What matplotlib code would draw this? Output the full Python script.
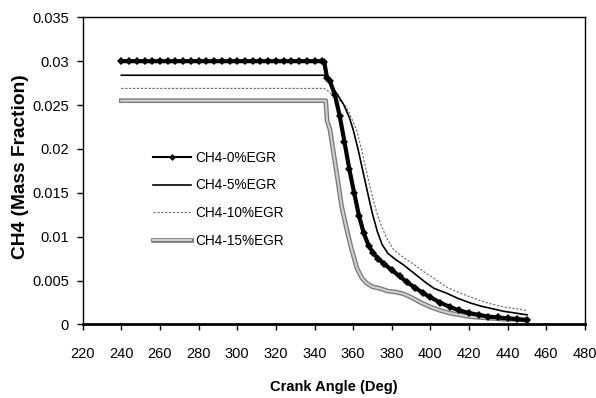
import matplotlib
matplotlib.use("Agg")
import matplotlib.pyplot as plt
import matplotlib.patheffects as pe
from matplotlib.lines import Line2D
from matplotlib.ticker import FuncFormatter

plt.rcParams['font.family'] = ['Liberation Sans', 'DejaVu Sans']

# Data
x0 = [240, 244, 248, 252, 256, 260, 264, 268, 272, 276, 280, 284, 288, 292, 296, 300,
      304, 308, 312, 316, 320, 324, 328, 332, 336, 340, 344, 345, 346.5, 348, 350.5, 353,
      355.5, 358, 360.5, 363, 365.5, 368, 370.5, 373, 376, 380, 384, 388, 392, 396, 400,
      405, 410, 415, 420, 425, 430, 435, 440, 445, 450]
y0 = [0.0300, 0.0300, 0.0300, 0.0300, 0.0300, 0.0300, 0.0300, 0.0300, 0.0300, 0.0300,
      0.0300, 0.0300, 0.0300, 0.0300, 0.0300, 0.0300, 0.0300, 0.0300, 0.0300, 0.0300,
      0.0300, 0.0300, 0.0300, 0.0300, 0.0300, 0.0300, 0.0300, 0.0299, 0.0281, 0.0277,
      0.0262, 0.0238, 0.0208, 0.0177, 0.0150, 0.0124, 0.0104, 0.0090, 0.0081, 0.0075,
      0.0069, 0.0062, 0.0055, 0.0048, 0.0042, 0.0036, 0.0031, 0.0025, 0.0020, 0.0016,
      0.0013, 0.0011, 0.0009, 0.0008, 0.0007, 0.0006, 0.0005]

x5 = [240, 345, 347, 350, 353, 355, 358, 360, 362.5, 365, 367.5, 370, 372.5, 375, 378,
      382, 386, 390, 394, 398, 402, 408, 414, 420, 426, 432, 438, 444, 450]
y5 = [0.0284, 0.0284, 0.0278, 0.0268, 0.0258, 0.0251, 0.0236, 0.0222, 0.0200, 0.0175,
      0.0150, 0.0126, 0.0106, 0.0091, 0.0081, 0.0074, 0.0068, 0.0061, 0.0054, 0.0047,
      0.0041, 0.0036, 0.0030, 0.0025, 0.0021, 0.0018, 0.0015, 0.0013, 0.0011]

x10 = [240, 345, 347, 350, 353, 356.5, 359, 362, 364.5, 367, 369.5, 372, 374, 377, 381,
       385, 389, 393, 398, 403, 408, 414, 420, 426, 432, 438, 444, 450]
y10 = [0.0269, 0.0269, 0.0266, 0.0260, 0.0255, 0.0248, 0.0236, 0.0220, 0.0198, 0.0173,
       0.0150, 0.0129, 0.0116, 0.0100, 0.0085, 0.0078, 0.0072, 0.0066, 0.0058, 0.0051,
       0.0043, 0.0037, 0.0032, 0.0027, 0.0023, 0.0020, 0.0018, 0.0016]

x15 = [240, 345.8, 346.5, 348, 350, 352, 354, 356.5, 359, 362, 364.5, 367, 370, 374,
       378, 382, 386, 390, 395, 400, 405, 410, 415, 420, 426, 432, 438, 444, 450]
y15 = [0.0255, 0.0255, 0.0232, 0.0222, 0.0193, 0.0165, 0.0135, 0.0110, 0.0087, 0.0064,
       0.0053, 0.0047, 0.0043, 0.0041, 0.0038, 0.0037, 0.0035, 0.0031, 0.0025, 0.0020,
       0.0016, 0.0013, 0.0011, 0.0009, 0.0008, 0.0007, 0.0006, 0.0006, 0.0005]

labels = ["CH4-0%EGR", "CH4-5%EGR", "CH4-10%EGR", "CH4-15%EGR"]
x_ticks = list(range(220, 481, 20))
y_ticks = [0, 0.005, 0.01, 0.015, 0.02, 0.025, 0.03, 0.035]

fig = plt.figure(figsize=(5.96, 3.98), dpi=100)
ax = fig.add_axes([0.1388, 0.1847, 0.8427, 0.7718])

ax.plot(x0, y0, color='black', lw=3.0, marker='D', ms=4.5, mew=0, zorder=5)
ax.plot(x5, y5, color='black', lw=1.2, zorder=4)
ax.plot(x10, y10, color='#666666', lw=0.8, linestyle=(0, (2, 1.5)), zorder=3)
fx = [pe.Stroke(linewidth=3.4, foreground='#7a7a7a'), pe.Normal()]
ax.plot(x15, y15, color='#cfcfcf', lw=1.5, zorder=2, path_effects=fx)

handles = [
    Line2D([], [], color='black', lw=1.5, marker='D', ms=3.5, mew=0),
    Line2D([], [], color='black', lw=1.2),
    Line2D([], [], color='#666666', lw=0.8, linestyle=(0, (2, 1.5))),
    Line2D([], [], color='#cfcfcf', lw=1.5, path_effects=fx),
]

ax.set_xlim(220, 480)
ax.set_ylim(0, 0.035)
ax.set_xticks(x_ticks)
ax.set_yticks(y_ticks)
ax.yaxis.set_major_formatter(FuncFormatter(lambda v, p: "%g" % round(v, 4)))
ax.tick_params(axis='both', direction='out', length=4, width=1, labelsize=10.5,
               colors='black', top=False, right=False)
ax.tick_params(axis='x', pad=12)
ax.tick_params(axis='y', pad=6)
for s in ['top', 'right', 'left']:
    ax.spines[s].set_linewidth(1.0)
ax.spines['bottom'].set_linewidth(2.0)

ax.set_xlabel("Crank Angle (Deg)", fontsize=10.5, fontweight='bold', labelpad=14)
ax.set_ylabel("CH4 (Mass Fraction)", fontsize=13.8, fontweight='bold')
ax.yaxis.set_label_coords(-0.106, 0.513)

leg = ax.legend(handles, labels, loc='upper left', bbox_to_anchor=(0.13, 0.583),
                frameon=False, fontsize=9.8, handlelength=2.75, handletextpad=0.35,
                labelspacing=1.0, borderaxespad=0)

fig.savefig("out.png", dpi=100)
